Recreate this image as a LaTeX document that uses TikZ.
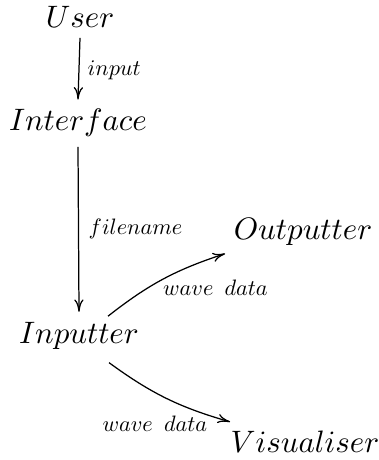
\documentclass[tikz,border=0pt]{standalone}
\usepackage{graphicx}
\usetikzlibrary{arrows.meta}
\newcommand{\edgelabel}[1]{\scalebox{0.72}{#1}}
\begin{document}
\begin{tikzpicture}[x=0.3226pt,y=-0.3226pt,
  obj/.style={inner sep=0pt, anchor=base},
  elbl/.style={inner sep=0pt, anchor=base west},
  arr/.style={-{To[length=4pt,width=3pt]}, line width=0.4pt}]
\useasboundingbox (0,0) rectangle (378,460);
% objects
\node[obj] (user) at (80,28) {$User$};
\node[obj] (iface) at (78,131) {$Interface$};
\node[obj] (inp) at (79,343) {$Inputter$};
\node[obj] (outp) at (303,239) {$Outputter$};
\node[obj] (vis) at (305,452) {$Visualiser$};
% vertical arrows
\draw[arr] ([yshift=-3pt]user.south) -- ([yshift=3pt]iface.north)
  node[midway, elbl, xshift=2.6pt, yshift=-2.2pt] {\edgelabel{$input$}};
\draw[arr] ([yshift=-3pt]iface.south) -- ([yshift=3pt]inp.north)
  node[midway, elbl, xshift=3.1pt, yshift=-1.6pt] {\edgelabel{$filename$}};
% curved arrows
\draw[arr] ([shift={(29,-5)}]inp.north) to[bend left=10]
  node[pos=0.5, elbl, xshift=-0.3pt, yshift=-5.2pt] {\edgelabel{$wave$\hspace{5pt}$data$}}
  ([shift={(-8,8)}]outp.south west);
\draw[arr] ([shift={(30,13)}]inp.south) to[bend right=10]
  node[pos=0.8, inner sep=0pt, anchor=base east, xshift=1.9pt, yshift=-5.8pt] {\edgelabel{$wave$\hspace{5pt}$data$}}
  ([shift={(0,-8)}]vis.north west);
\end{tikzpicture}
\end{document}
